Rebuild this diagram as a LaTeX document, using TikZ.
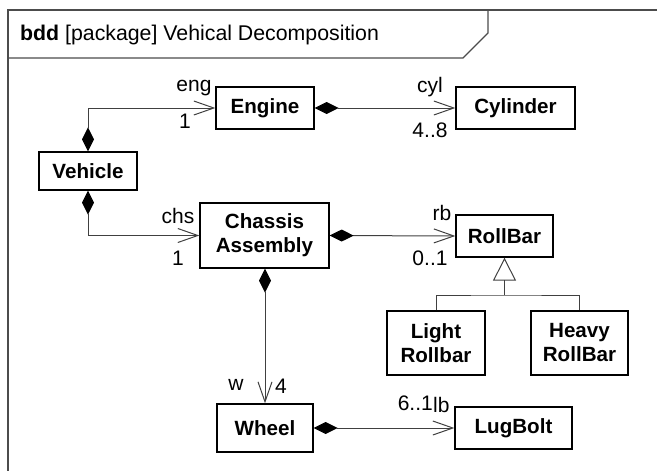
\documentclass[tikz,border=0pt]{standalone}
\usepackage{fontspec}
\setmainfont{Liberation Sans}
\usetikzlibrary{arrows.meta}
\tikzset{
  blk/.style={draw=black, line width=1.3pt, font=\fontsize{20.6}{24}\selectfont\bfseries, align=center, inner sep=0pt},
  lbl/.style={font=\fontsize{21}{24}\selectfont, inner sep=0pt, anchor=base},
  comp/.style={draw=black!75, line width=1pt, {Diamond[length=24pt,width=12pt,fill=black,black]}-{Straight Barb[length=20pt,width=14pt,line width=1pt]}},
  genl/.style={draw=black!75, line width=1pt},
  frm/.style={draw=black!70, line width=1.2pt}
}
\begin{document}
\begin{tikzpicture}[x=1pt,y=-1pt]
\useasboundingbox (0,0) rectangle (657,471);
% frame
\draw[frm] (8,480) -- (8,10) -- (665,10);
\draw[frm] (8,58) -- (463,58) -- (488,33) -- (488,10);
\node[lbl, anchor=base west, font=\fontsize{21.3}{24}\selectfont] (title) at (20,40) {\textbf{bdd} [package] Vehical Decomposition};
% blocks
\node[blk, minimum width=98pt, minimum height=42pt] (eng) at (265,108) {Engine};
\node[blk, minimum width=119pt, minimum height=42pt] (cyl) at (515.5,108) {Cylinder};
\node[blk, minimum width=98pt, minimum height=38pt] (veh) at (88,171) {Vehicle};
\node[blk, minimum width=129pt, minimum height=65pt] (chs) at (264.5,235.5) {Chassis\\Assembly};
\node[blk, minimum width=97pt, minimum height=42pt] (rb) at (504.5,236) {RollBar};
\node[blk, minimum width=98pt, minimum height=64pt] (lrb) at (436,343) {Light\\Rollbar};
\node[blk, minimum width=97pt, minimum height=64pt] (hrb) at (579.5,343) {Heavy\\RollBar};
\node[blk, minimum width=96pt, minimum height=48pt] (whl) at (265,428) {Wheel};
\node[blk, minimum width=117pt, minimum height=42pt] (lug) at (513.5,428) {LugBolt};
% compositions
\draw[comp] (veh.north) |- (eng.west);
\draw[comp] (veh.south) |- (chs.west);
\draw[comp] (eng.east) -- (cyl.west);
\draw[comp] (chs.east) -- (rb.west);
\draw[comp] (whl.north |- chs.south) -- (whl.north);
\draw[comp] (whl.east) -- (lug.west);
% generalization
\coordinate (gen) at (504.5,295);
\draw[genl] (lrb.north) |- (gen) -| (hrb.north);
\draw[genl, -{Triangle[open, length=23pt, width=23pt, line width=1pt]}] (gen) -- (rb.south);
% role and multiplicity labels
\node[lbl] (l-eng) at (194,91) {eng};
\node[lbl] (l-eng1) at (185,128) {1};
\node[lbl] (l-chs) at (178,223) {chs};
\node[lbl] (l-chs1) at (178,265) {1};
\node[lbl] (l-cyl) at (430,92) {cyl};
\node[lbl] (l-cyl48) at (430,137) {4..8};
\node[lbl] (l-rb) at (442,220) {rb};
\node[lbl] (l-rb01) at (430,265) {0..1};
\node[lbl] (l-w) at (236,390) {w};
\node[lbl] (l-w4) at (281,393) {4};
\node[lbl, anchor=base east] (l-lug61) at (433,410) {6..1};
\node[lbl, anchor=base west] (l-lb) at (433,412) {lb};
\end{tikzpicture}
\end{document}
